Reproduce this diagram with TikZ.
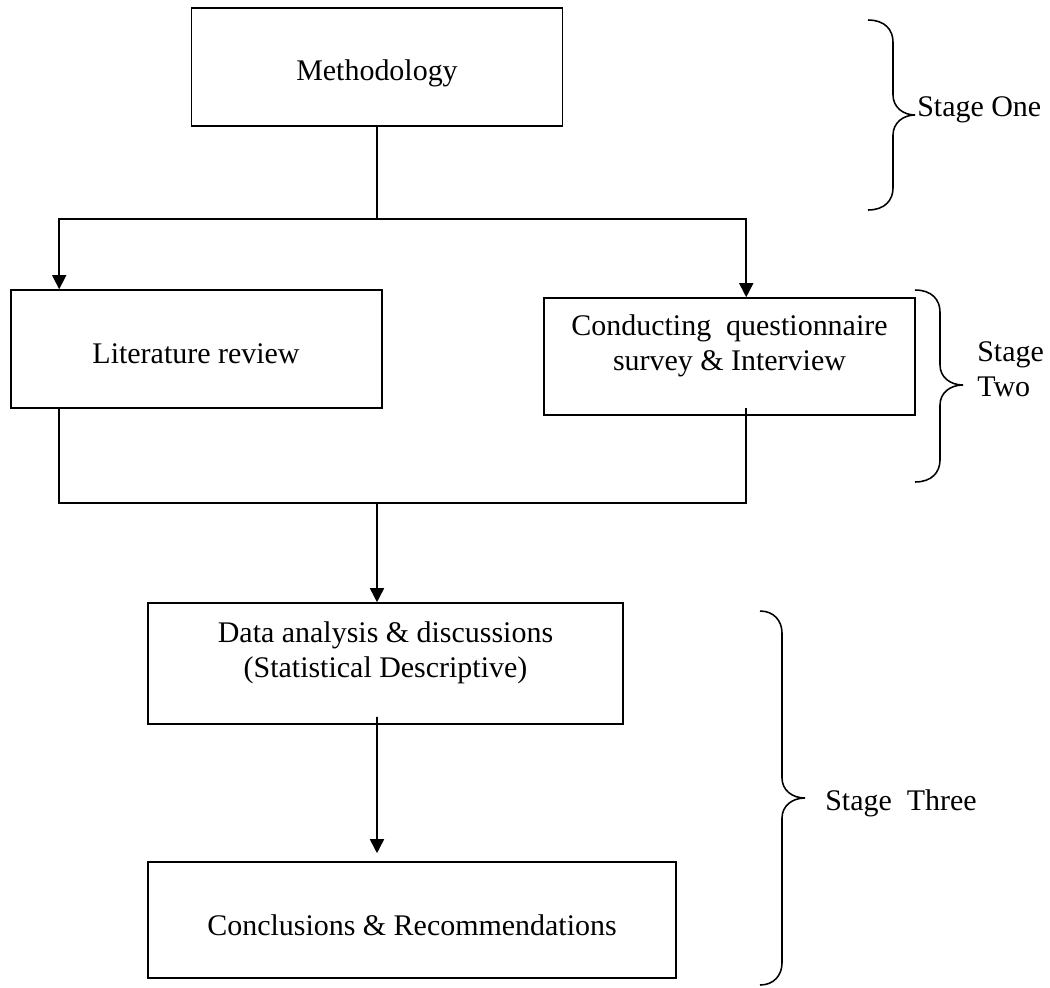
\documentclass[tikz,border=0pt]{standalone}
\usepackage{fontspec}
\setmainfont{Liberation Serif}
\usetikzlibrary{arrows.meta,calc}
\tikzset{
  box/.style={draw, line width=1.1pt, rectangle, inner sep=0pt},
  txt/.style={inner sep=0pt, anchor=base, font=\fontsize{21.3}{24.9}\selectfont},
  conn/.style={line width=1.1pt},
  arr/.style={conn, -{Triangle[length=0.35cm,width=0.35cm]}},
  bracestyle/.style={line width=1.1pt},
}
\newcommand{\stagebrace}[6]{%
  \draw[bracestyle] (#1,#4) .. controls ({#2-8},#4) and (#2,{#4+10}) .. (#2,{#4+22})
    -- (#2,{#5-20}) .. controls (#2,{#5-8}) and ({#2+10},#5) .. (#3,#5)
    .. controls ({#2+10},#5) and (#2,{#5+8}) .. (#2,{#5+20})
    -- (#2,{#6-22}) .. controls (#2,{#6-10}) and ({#2-8},#6) .. (#1,#6);}
\begin{document}
\begin{tikzpicture}[x=0.025cm,y=-0.025cm]
\useasboundingbox (0,0) rectangle (1050,987);

% boxes
\node[box, minimum width=9.275cm, minimum height=2.95cm] (meth) at (377,67) {};
\node[box, minimum width=9.275cm, minimum height=2.95cm] (lit) at (196.5,349) {};
\node[box, minimum width=9.275cm, minimum height=2.925cm] (cond) at (729.5,356.5) {};
\node[box, minimum width=11.875cm, minimum height=3.025cm] (data) at (385.5,663.5) {};
\node[box, minimum width=13.2cm, minimum height=2.9cm] (concl) at (412,920) {};

% texts
\node[txt] (methT) at (377,80) {Methodology};
\node[txt] (litT) at (196,363) {Literature review};
\node[txt] (condT) at (729.5,335) {\begin{tabular}[t]{@{}c@{}}Conducting~~questionnaire\\ survey \& Interview\end{tabular}};
\node[txt] (dataT) at (385.5,642) {\begin{tabular}[t]{@{}c@{}}Data analysis \& discussions\\ (Statistical Descriptive)\end{tabular}};
\node[txt] (conclT) at (412,935) {Conclusions \& Recommendations};

% connectors
\coordinate (split) at (377,219);
\coordinate (merge) at (377,503);
\draw[conn] (meth.south) -- (split);
\draw[conn] ([xshift=1.225cm]lit.north west |- split) -- ([xshift=5.075cm]cond.north west |- split);
\draw[arr] (split) -| ([xshift=1.225cm]lit.north west);
\draw[arr] (split) -| ([xshift=5.075cm]cond.north west);
\draw[conn] ([xshift=1.225cm]lit.south west) |- (merge);
\draw[conn] (merge) -| ([xshift=5.075cm,yshift=0.2cm]cond.south west);
\draw[arr] (merge) -- ([xshift=-0.2125cm]data.north);
\draw[arr, shorten >=0.2cm] ([xshift=-0.2125cm,yshift=0.2cm]data.south) -- ([xshift=-0.875cm]concl.north);

% braces
\stagebrace{868}{893}{915}{20}{115}{210}
\stagebrace{915}{940}{963}{290}{385}{482}
\stagebrace{760}{782}{805}{611}{798}{985}

% stage labels
\node[txt, anchor=base west] (s1) at (917,116) {Stage One};
\node[txt, anchor=base west] (s2) at (977,361) {\begin{tabular}[t]{@{}l@{}}Stage\\ Two\end{tabular}};
\node[txt, anchor=base west] (s3) at (825,810) {Stage~~Three};
\end{tikzpicture}
\end{document}
